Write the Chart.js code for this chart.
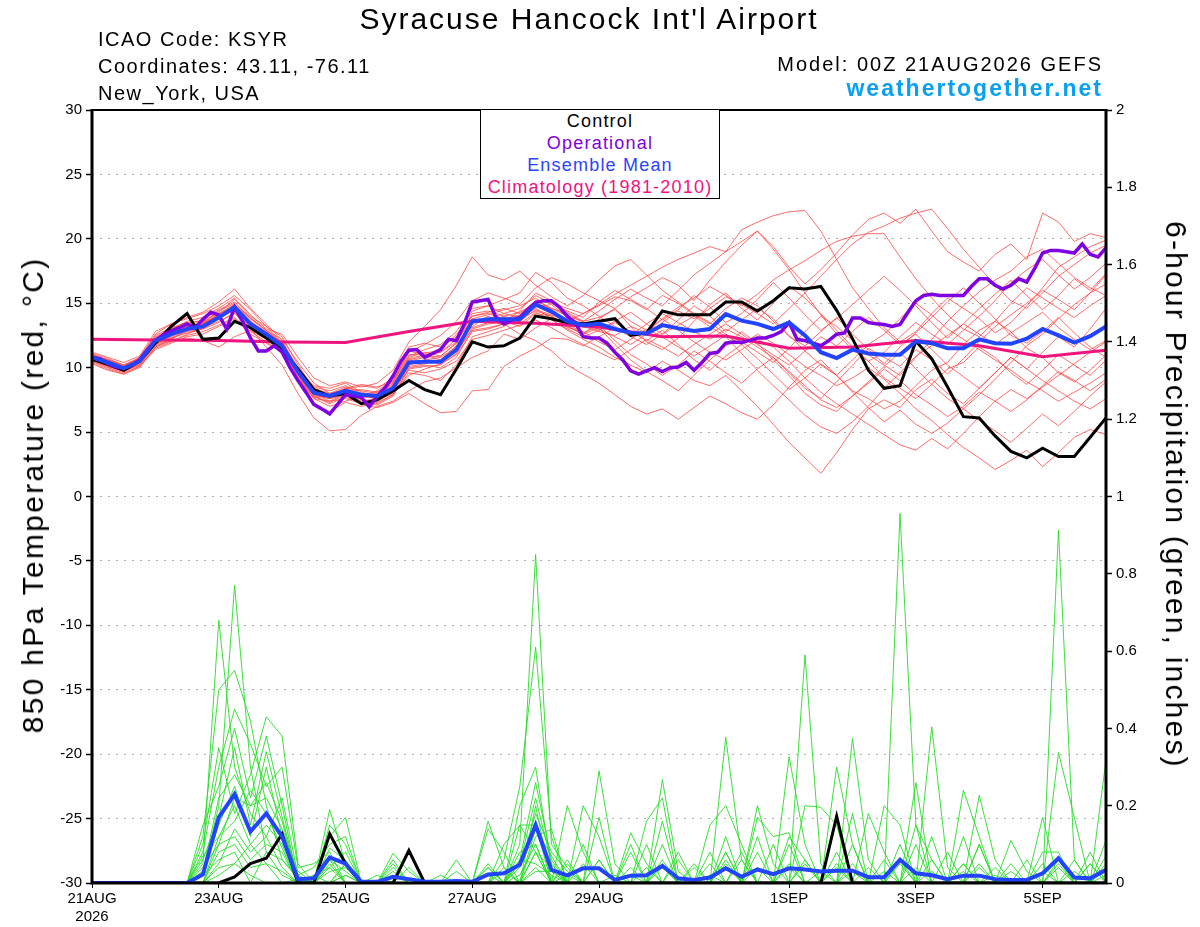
<!DOCTYPE html>
<html>
<head>
<meta charset="utf-8">
<script src="https://cdn.jsdelivr.net/npm/chart.js@4.4.1/dist/chart.umd.min.js"></script>
<style>
body { margin: 0; background: #fff; }
#wrap { position: relative; width: 1200px; height: 927px; font-family: "Liberation Sans", Arial, Helvetica, sans-serif; }
#wrap canvas { position: absolute; left: 0; top: 0; }
.t { position: absolute; white-space: nowrap; line-height: 1; color: #000; }
#legendBox { position: absolute; left: 480px; top: 109px; width: 240px; height: 90px; box-sizing: border-box;
  border: 1.5px solid #000; background: #fff; text-align: center; font-size: 18px; letter-spacing: 1.2px; }
#legendBox div { line-height: 22px; }
</style>
</head>
<body>
<div id="wrap">
  <canvas id="ensembleChart" width="1200" height="927"></canvas>
  <div class="t" style="left:589px;top:4px;font-size:30px;letter-spacing:2px;transform:translateX(-50%)">Syracuse Hancock Int'l Airport</div>
  <div class="t" style="left:98px;top:29px;font-size:20px;letter-spacing:1.5px">ICAO Code: KSYR</div>
  <div class="t" style="left:98px;top:56px;font-size:20px;letter-spacing:1.5px">Coordinates: 43.11, -76.11</div>
  <div class="t" style="left:98px;top:83px;font-size:20px;letter-spacing:1.5px">New_York, USA</div>
  <div class="t" style="right:97px;top:54px;font-size:20px;letter-spacing:2px">Model: 00Z 21AUG2026 GEFS</div>
  <div class="t" style="right:97px;top:77px;font-size:23px;font-weight:bold;letter-spacing:2px;color:#0aa0f2">weathertogether.net</div>
  <div id="legendBox">
    <div style="color:#000">Control</div>
    <div style="color:#8000e0">Operational</div>
    <div style="color:#2a44ff">Ensemble Mean</div>
    <div style="color:#f0147e">Climatology (1981-2010)</div>
  </div>
  <div class="t" style="left:33px;top:495px;font-size:30px;letter-spacing:2.3px;transform:translate(-50%,-50%) rotate(-90deg)">850 hPa Temperature (red, °C)</div>
  <div class="t" style="left:1176px;top:495px;font-size:30px;letter-spacing:2.2px;transform:translate(-50%,-50%) rotate(90deg)">6-hour Precipitation (green, inches)</div>
</div>
<script>
// forecast hours: members every 6h, operational every 3h, climatology daily
const stepHours = 6;
const opStepHours = 3;
const climStepHours = 24;

const xTickHours = [0, 48, 96, 144, 192, 264, 312, 360];
const xTickLabels = [["21AUG", "2026"], "23AUG", "25AUG", "27AUG", "29AUG", "1SEP", "3SEP", "5SEP"];

// 850 hPa temperature (C)
const controlTemp = [10.65,10.26,9.8,10.5,11.9,13.2,14.2,12.2,12.3,13.6, 13.1,12.3,11.4,9.9,8.3,7.8,8.0,7.2,7.5,8.2,
  9.0,8.3,7.9,9.9,12.0,11.6,11.7,12.3,14.0,13.8, 13.5,13.4,13.6,13.8,12.5,12.7,14.4,14.1,14.1,14.1,
  15.1,15.1,14.4,15.2,16.2,16.1,16.3,14.45,12.25,9.8, 8.4,8.6,12.05,10.7,8.5,6.2,6.1,4.7,3.5,3.0,
  3.75,3.1,3.1,4.6,6.1];
const meanTemp = [10.8,10.4,9.95,10.5,12.1,12.6,13.0,13.2,13.9,14.7, 13.4,12.6,11.7,9.7,8.05,7.8,8.2,7.9,7.8,8.4,
  10.4,10.45,10.45,11.4,13.6,13.75,13.75,13.75,14.9,14.35, 13.6,13.3,13.4,13.0,12.7,12.65,13.3,13.05,12.85,13.0,
  14.15,13.65,13.4,13.0,13.5,12.5,11.2,10.75,11.4,11.1, 11.0,11.0,12.05,11.9,11.5,11.5,12.2,11.9,11.85,12.25,
  13.0,12.5,11.95,12.45,13.2];
const operationalTemp = [10.8,10.7,10.3,10.05,9.95,10.2,10.6,11.4,12.1,12.55, 12.85,13.1,13.4,13.1,13.75,14.3,14.1,13.0,14.7,13.6,
  12.3,11.3,11.3,11.7,11.2,10.0,9.0,8.1,7.15,6.8, 6.4,7.15,7.9,7.8,7.7,6.95,7.8,8.45,9.35,10.5,
  11.35,11.4,10.8,11.1,11.4,12.2,12.1,13.4,15.1,15.2, 15.3,13.9,13.4,13.7,13.9,14.5,15.05,15.2,15.2,14.7,
  14.0,13.5,12.4,12.3,12.3,11.9,11.2,10.6,9.75,9.5, 9.75,10.0,9.7,10.0,10.05,10.4,9.8,10.4,11.1,11.2,
  11.9,12.0,11.95,12.1,12.3,12.3,12.5,12.8,13.5,12.2, 12.1,11.9,11.7,12.1,12.6,12.7,13.85,13.85,13.5,13.4,
  13.35,13.2,13.35,14.3,15.2,15.6,15.7,15.6,15.6,15.6, 15.6,16.3,16.9,16.9,16.4,16.1,16.4,16.9,16.65,17.7,
  18.9,19.1,19.1,19.0,18.9,19.6,18.8,18.6,19.3];
const climTemp = [12.2,12.15,12.1,12.0,11.95,12.8,13.6,13.45,13.15,12.4,12.45,11.5,11.6,12.1,11.7,10.85,11.35];

const tempMembers = [
  [10.9,10.6,10.2,10.8,12.6,13.4,13.8,14.2,14.8,15.6, 14.5,13.2,11.9,9.5,7.6,7.0,7.4,7.8,8.2,9.0, 11.2,11.8,12.5,13.6,15.2,15.8,15.4,14.9,16.2,17.0,
   16.5,15.8,15.2,14.6,15.5,16.2,17.0,16.4,15.2,16.8, 18.2,19.5,20.6,19.4,17.8,16.5,17.6,18.9,20.3,21.5, 22.0,21.2,22.3,20.6,19.0,18.2,17.5,18.8,19.6,18.4, 22.0,21.3,19.8,20.4,20.1],
  [10.6,10.1,9.7,10.3,11.8,12.2,12.9,13.5,14.0,14.9, 13.8,12.9,12.2,10.4,8.8,8.0,8.5,7.6,7.2,7.9, 9.6,9.4,9.0,10.2,12.4,12.8,13.2,13.9,14.6,13.8,
   12.9,12.2,11.6,10.8,10.2,9.6,10.5,9.8,9.0,8.6, 9.4,8.2,7.0,5.6,4.2,3.0,1.8,3.4,5.2,6.8, 7.5,6.9,8.3,9.1,8.0,7.2,8.4,9.6,10.8,9.9, 11.2,12.4,11.6,13.0,14.6],
  [11.0,10.5,10.1,10.6,12.4,13.0,13.6,13.9,14.6,15.4, 14.1,13.0,12.6,10.8,9.2,8.6,8.9,8.5,8.8,9.8, 12.0,13.2,14.5,16.4,18.6,17.2,16.8,17.5,16.4,15.5,
   14.8,15.6,16.8,17.9,18.4,17.2,16.0,15.1,14.2,13.5, 12.6,12.0,11.2,10.4,11.5,12.8,14.0,13.2,12.1,11.0, 10.2,9.4,10.8,12.2,13.6,14.8,15.9,16.8,17.5,18.6, 19.2,18.1,17.0,16.2,15.6],
  [10.5,10.0,9.6,10.1,11.5,12.0,12.6,13.1,13.6,14.2, 13.0,11.6,10.2,8.0,6.1,5.1,5.2,6.3,7.0,7.4, 8.2,8.9,9.2,10.0,10.8,11.3,12.6,12.2,13.1,13.8,
   13.3,12.5,13.8,14.6,13.2,12.0,11.4,12.3,13.6,14.9, 15.8,14.6,13.7,15.0,16.3,15.4,14.2,12.9,11.6,10.5, 9.2,8.4,7.6,8.7,9.9,10.4,11.6,10.8,9.6,8.7, 9.8,11.0,10.2,9.4,10.6],
  [10.7,10.3,9.9,10.4,12.2,12.8,13.3,13.4,14.1,14.8, 13.6,12.4,11.4,9.4,7.9,7.6,8.1,8.0,7.6,8.6, 10.8,11.2,10.9,11.9,13.2,14.0,13.5,14.4,15.8,15.2,
   14.3,13.6,14.4,15.3,16.1,15.4,14.8,16.0,17.2,18.1, 19.0,20.7,21.3,21.8,22.1,22.2,20.6,18.4,16.2,14.6, 13.1,12.0,12.8,14.2,15.4,14.6,13.8,12.7,13.5,14.8, 16.2,17.8,18.6,19.4,19.9],
  [10.8,10.4,10.0,10.5,11.9,12.3,12.7,13.0,13.5,14.3, 13.1,12.3,11.5,9.9,8.5,8.2,8.6,8.0,7.5,8.0, 9.4,9.9,10.3,11.0,12.8,13.0,13.4,12.6,12.1,11.3,
   10.2,9.5,8.8,7.9,7.0,6.4,6.8,6.0,6.9,7.8, 7.2,6.5,6.0,7.1,8.5,9.8,10.6,9.4,8.2,7.6, 6.8,7.4,8.6,9.8,10.4,11.8,12.9,13.6,12.8,11.5, 10.8,9.6,8.9,9.8,11.0],
  [11.1,10.7,10.2,10.7,12.5,13.1,13.5,13.6,14.3,15.3, 14.0,13.2,12.4,10.2,8.4,8.0,8.3,8.6,8.4,9.2, 11.6,11.9,11.6,12.4,14.4,14.8,14.2,14.6,15.6,15.0,
   14.6,14.2,14.8,15.5,15.2,14.5,15.6,15.0,14.1,13.4, 14.6,15.4,14.8,13.6,12.5,11.3,10.2,9.4,10.6,11.8, 12.6,13.8,15.0,14.1,13.0,12.2,11.4,10.6,9.8,8.9, 8.2,7.4,8.1,8.8,9.6],
  [10.4,9.9,9.5,10.0,11.6,12.3,12.8,13.0,13.8,14.5, 13.4,12.7,12.0,9.8,8.2,7.6,7.9,7.4,7.6,8.3, 10.1,10.3,10.6,11.2,13.0,13.4,13.6,13.2,14.2,14.0,
   13.1,12.8,12.0,11.4,12.2,13.0,12.4,11.6,10.9,11.7, 12.5,11.8,12.6,11.9,11.0,10.1,9.4,8.6,9.2,10.0, 9.1,8.0,6.8,5.9,4.8,3.8,3.0,2.1,2.8,3.6, 2.3,3.4,4.6,5.2,4.8],
  [11.2,10.8,10.4,10.9,12.8,13.4,13.9,14.3,15.1,16.1, 14.6,13.4,12.1,9.9,7.8,7.3,7.9,7.6,7.9,8.8, 10.9,11.4,11.8,12.8,14.6,14.8,15.3,15.8,17.4,16.6,
   15.4,14.8,14.0,13.2,12.5,13.4,14.2,13.5,12.8,12.2, 13.0,12.4,11.6,10.8,9.6,8.4,7.6,8.9,10.2,11.5, 10.8,10.1,11.4,10.6,9.5,10.7,12.0,13.2,14.1,15.0, 16.0,15.3,14.5,15.8,17.2],
  [10.6,10.2,9.8,10.4,11.7,12.1,12.5,12.8,13.3,13.9, 12.8,12.0,11.2,9.6,8.0,7.4,7.6,7.2,6.9,7.3, 8.0,7.2,6.5,6.6,8.2,8.3,10.1,10.9,11.5,12.3,
   12.2,11.7,12.4,13.1,12.4,11.8,12.6,13.3,14.0,13.2, 12.4,11.1,9.8,8.6,7.5,6.3,5.4,4.9,5.8,7.0, 8.4,9.6,10.9,11.7,12.5,13.4,12.6,11.8,12.7,13.5, 14.3,13.1,12.2,11.4,12.1],
  [10.9,10.5,10.0,10.6,12.0,12.5,13.1,13.4,14.0,14.6, 13.3,12.5,11.6,9.2,7.6,7.4,8.0,7.7,8.1,8.9, 11.0,11.1,11.4,12.6,14.0,14.2,13.8,14.1,15.2,14.6,
   14.0,13.6,13.9,14.5,13.6,12.9,13.8,14.7,15.4,16.3, 15.6,14.8,15.7,16.8,17.6,18.3,19.1,19.8,20.2,20.4, 20.4,18.6,16.9,15.4,14.1,13.0,12.4,13.6,15.0,16.2, 15.4,14.6,13.9,14.8,15.6],
  [10.8,10.4,9.9,10.4,12.3,12.9,13.2,13.3,14.2,14.9, 13.6,12.8,11.8,9.7,8.1,7.7,8.4,8.2,8.0,8.6, 10.5,10.8,10.9,11.9,14.2,14.4,14.0,13.6,14.8,14.2,
   13.8,13.2,12.8,12.5,13.2,12.7,13.8,12.9,12.0,11.2, 10.6,11.4,12.2,11.6,10.5,9.2,8.1,7.2,6.4,5.6, 4.8,4.0,3.6,4.5,3.7,4.9,6.2,7.4,8.3,7.6, 8.5,9.4,10.3,11.2,12.0],
  [10.7,10.3,9.9,10.5,12.1,12.6,13.0,13.2,13.8,14.6, 13.5,12.6,11.5,9.6,7.9,7.6,8.0,7.5,7.4,8.1, 10.2,10.6,10.4,11.4,13.4,13.8,14.2,13.9,14.7,14.9,
   13.9,13.4,13.0,12.4,11.8,12.6,13.5,14.4,13.8,14.6, 15.5,14.9,14.2,13.4,14.6,15.8,17.1,18.4,19.6,20.5, 21.0,21.6,22.0,22.3,20.8,19.2,17.8,16.4,15.2,14.6, 15.8,17.1,18.0,18.9,19.5],
  [10.3,9.8,9.5,10.1,11.4,11.9,12.4,12.6,13.2,13.8, 12.6,11.9,11.2,9.9,8.6,8.4,8.8,8.1,7.8,8.3, 9.8,9.6,9.9,10.5,12.2,12.5,12.9,13.3,13.7,13.1,
   12.4,11.8,11.2,10.6,11.4,12.2,11.6,10.9,11.8,12.6, 13.4,12.6,11.8,11.0,10.2,11.3,12.4,11.7,12.8,13.9, 12.9,11.8,12.6,11.4,10.2,9.3,8.4,9.6,10.8,9.9, 9.0,8.2,7.4,6.8,7.6],
  [11.0,10.6,10.1,10.6,12.0,12.4,12.9,13.3,14.0,14.6, 13.2,12.2,11.3,9.3,7.7,7.8,8.4,8.7,8.5,8.9, 11.3,11.0,10.6,11.7,13.6,13.7,13.3,13.6,14.5,14.1,
   13.6,14.2,14.9,15.7,16.4,17.1,17.8,18.4,18.9,19.4, 19.0,19.8,20.6,19.2,17.6,15.8,14.1,12.6,11.4,10.5, 11.2,12.4,13.5,12.6,11.8,12.9,14.0,15.2,16.6,17.6, 18.4,17.2,16.1,17.0,18.1],
  [10.8,10.3,9.8,10.2,11.6,12.1,12.3,12.1,11.6,12.4, 12.9,12.2,11.4,9.5,7.2,6.6,7.3,7.0,7.3,7.9, 10.0,10.2,10.0,10.8,12.9,13.1,13.4,13.8,14.4,14.0,
   13.2,12.6,13.1,11.8,10.6,9.7,9.0,8.2,9.4,10.6, 11.7,12.8,11.9,10.6,9.4,8.0,7.1,6.6,7.8,8.9, 10.1,11.2,9.9,8.7,7.6,6.8,7.9,9.1,10.4,11.7, 12.6,13.8,14.9,15.8,16.5],
  [10.6,10.2,9.9,10.4,12.0,12.7,13.1,13.5,14.4,15.0, 13.9,12.9,11.9,9.8,8.3,7.9,8.3,7.8,7.7,8.5, 10.6,10.9,11.2,12.0,13.8,14.1,14.5,14.8,15.4,14.5,
   13.4,12.7,13.3,12.1,11.0,10.3,9.4,10.2,11.3,10.5, 9.6,8.8,9.9,10.8,9.7,8.6,7.5,6.9,7.8,8.8, 9.9,9.0,7.9,7.1,6.2,7.0,8.1,7.4,6.6,7.5, 8.6,9.7,9.0,8.2,9.1],
  [10.9,10.5,10.1,10.6,12.2,12.7,13.2,13.5,14.2,14.8, 13.4,12.7,11.9,9.8,8.0,7.7,8.1,7.8,7.6,8.3, 10.3,10.6,10.8,11.6,13.8,13.6,14.0,14.3,15.0,14.6,
   14.2,13.5,12.9,13.6,14.3,13.4,12.6,13.7,14.8,14.0, 12.8,13.7,14.6,13.8,12.4,11.7,12.8,13.9,12.6,11.4, 10.3,11.6,12.7,13.9,15.1,16.2,15.0,13.8,12.5,11.9, 12.8,13.9,12.7,11.6,10.8],
  [10.5,10.1,9.7,10.2,11.8,12.5,13.0,13.3,14.0,14.4, 13.1,12.5,11.6,9.5,7.8,7.2,7.7,7.3,7.1,7.8, 9.9,10.1,10.2,11.1,13.1,13.5,13.9,13.4,14.3,13.7,
   13.0,12.4,12.9,13.5,12.8,12.1,12.9,11.8,10.6,9.8, 10.9,11.8,10.7,9.5,8.3,9.2,10.3,9.4,8.1,6.9, 5.8,6.7,5.6,4.9,5.7,6.8,5.9,5.1,4.2,5.3, 6.4,5.5,6.6,7.8,8.9],
  [11.0,10.6,10.2,10.7,12.3,12.9,13.4,13.7,14.5,15.1, 13.8,12.9,12.0,10.0,8.3,7.9,8.2,8.3,8.1,8.7, 10.7,11.0,11.2,12.2,14.0,14.3,14.6,14.2,15.2,15.0,
   14.4,13.9,15.1,16.0,15.3,14.6,13.7,14.5,15.6,14.7, 13.5,14.2,15.3,16.6,15.4,14.1,12.9,13.8,14.9,16.0, 17.1,16.0,14.8,13.5,12.3,13.4,14.6,15.7,16.8,15.6, 14.5,15.6,16.9,16.0,17.3]
];

// 6-hour precipitation (inches)
const controlPrecip = [0,0,0,0,0,0,0,0,0,0.016, 0.05,0.064,0.127,0,0,0.127,0.05,0,0,0, 0.084,0,0,0,0,0,0,0,0,0,
  0,0,0,0,0,0,0,0,0,0, 0,0,0,0,0,0,0,0.173,0,0, 0,0,0,0,0,0,0,0,0,0, 0,0,0,0,0];
const meanPrecip = [0,0,0,0,0,0,0,0.022,0.17,0.23, 0.133,0.18,0.12,0.01,0.012,0.066,0.05,0.003,0.003,0.016,
  0.01,0.003,0.003,0.005,0.003,0.022,0.025,0.047,0.15,0.034, 0.02,0.038,0.038,0.008,0.019,0.02,0.044,0.012,0.008,0.014,
  0.038,0.016,0.035,0.023,0.038,0.035,0.03,0.032,0.032,0.015, 0.015,0.06,0.025,0.02,0.01,0.019,0.019,0.01,0.008,0.008,
  0.025,0.064,0.014,0.012,0.034];

const precipMembers = [
  [0,0,0,0,0,0,0,.05,.68,.3, .18,.12,.04,0,0,.06,.03,0,0,0, 0,0,0,0,0,.04,0,.1,.85,.1, .04,0,0,0,0,0,.06,0,0,0, .08,0,0,0,.12,.06,0,0,0,0, 0,.956,.15,.06,0,0,.1,0,0,0, .08,.08,0,0,0],
  [0,0,0,0,0,0,0,.02,.2,.77, .3,.08,.02,0,0,.19,.05,0,0,.05, 0,0,0,0,0,0,0,.2,.3,.04, 0,0,.06,0,.13,.05,0,0,0,0, .377,.06,0,0,0,0,0,0,.05,0, 0,0,0,.404,.04,0,0,0,0,0, 0,.913,.06,0,.07],
  [0,0,0,0,0,0,0,.12,.5,.55, .42,.2,.06,.02,.04,.1,.12,0,0,0, 0,0,0,0,0,0,.06,.25,.61,.12, 0,0,0,0,0,0,.267,.03,0,0, 0,0,0,0,0,.59,.05,0,0,0, 0,0,0,0,0,.05,0,0,0,0, 0,0,0,0,.318],
  [0,0,0,0,0,0,0,.1,.35,.18, .28,.43,.38,.05,0,.12,.17,0,0,.077, .03,0,0,0,0,.16,.04,0,.2,0, .2,.08,0,0,0,0,0,0,0,.08, 0,0,.2,.05,0,0,0,0,.374,.06, 0,0,0,0,0,0,0,.04,0,0, 0,.338,.17,0,0],
  [0,0,0,0,0,0,0,.08,.3,.45, .36,.25,.3,.04,.05,.08,0,0,0,0, 0,0,0,.06,0,0,0,.06,.26,.06, 0,0,.29,.05,0,0,.1,0,0,0, 0,0,0,0,.327,.1,0,0,0,0, .2,.15,0,0,0,0,.227,.06,0,0, 0,0,0,.05,0],
  [0,0,0,0,0,0,0,.15,.25,.4, .22,.38,.2,0,.02,.04,0,0,0,.06, 0,0,0,0,0,0,.1,.15,.15,0, 0,.2,.12,0,0,.16,.22,0,0,0, .12,0,0,0,0,0,0,.3,.1,0, 0,0,0,0,0,.24,.12,0,0,0, .17,0,0,0,.11],
  [0,0,0,0,0,0,0,.06,.17,.35, .15,.34,.17,.01,0,.15,.1,0,0,0, 0,0,0,0,0,.14,.08,0,.12,.14, 0,0,0,0,.1,0,.16,0,0,.15, .2,.1,0,0,0,.2,.196,.15,0,0, 0,0,0,.12,0,0,0,0,.11,.03, 0,0,0,0,0],
  [0,0,0,0,0,0,0,.03,.15,.25, .12,.3,.12,0,0,.04,.08,0,0,.03, 0,0,.02,0,0,0,0,.08,.1,0, .06,0,.17,0,0,0,0,.08,0,0, 0,0,.17,.12,.13,0,0,0,0,.18, .08,0,.26,0,0,0,0,0,.05,0, 0,0,.06,0,0],
  [0,0,0,0,0,0,0,0,.12,.2, .1,.15,.1,0,0,0,.05,0,0,0, .04,0,0,.03,0,0,0,0,.08,.04, 0,.1,0,0,.08,0,0,0,.05,0, 0,.08,0,0,.1,0,0,0,.18,0, 0,.1,0,0,0,.12,0,0,0,.06, 0,0,0,.08,0],
  [0,0,0,0,0,0,0,0,.1,.12, .06,.1,.08,0,0,.06,0,0,.02,0, 0,0,0,0,0,.05,0,.15,.08,0, .05,0,0,0,0,.1,0,0,0,.05, 0,0,.12,0,0,0,0,.08,0,0, .06,0,.1,0,0,0,.1,0,0,0, .05,0,0,0,.04],
  [0,0,0,0,0,0,0,0,.08,.1, .04,.05,.03,0,0,0,.05,0,0,0, 0,0,0,0,0,0,.04,0,.08,0, 0,0,0,.02,0,0,.05,0,0,0, .08,0,.08,0,0,.06,0,0,.1,0, 0,0,.15,0,.08,0,0,0,0,0, 0,.06,0,0,0],
  [0,0,0,0,0,0,0,.02,.06,.08, 0,.08,.06,.01,0,0,0,0,0,0, 0,0,0,0,0,.04,0,.06,.05,.02, 0,0,0,0,0,0,0,.06,0,0, 0,.06,0,.1,0,0,.03,0,0,0, 0,0,0,.06,0,0,0,.02,0,0, 0,0,0,.05,0],
  [0,0,0,0,0,0,0,0,.04,.05, .1,.05,0,0,.02,0,0,0,0,.02, 0,0,0,0,0,0,0,0,.04,0, 0,0,.06,0,0,0,0,0,.04,0, 0,0,0,0,.05,0,0,0,0,.04, 0,0,0,0,0,.05,0,0,0,0, .03,0,0,0,.05],
  [0,0,0,0,0,0,0,0,.02,.05, .02,0,0,.01,0,0,.02,0,0,0, 0,0,0,0,0,0,0,0,.03,.03, 0,0,0,0,.04,0,0,0,0,.02, 0,0,0,0,0,0,0,.04,0,0, .03,0,0,0,0,0,.04,0,0,0, 0,0,.03,0,0],
  [0,0,0,0,0,0,0,.04,.1,.22, .2,.22,.14,.03,0,.05,0,0,0,0, 0,0,0,0,0,0,0,.04,.18,.08, .03,0,0,0,0,0,0,0,0,0, .06,0,0,0,0,.05,0,0,0,0, 0,.06,0,0,0,0,0,0,0,0, 0,.05,0,0,0],
  [0,0,0,0,0,0,0,.03,.22,.28, .2,.26,.16,0,0,.09,.06,0,0,0, 0,0,0,0,0,.02,0,.05,.22,.05, 0,0,0,0,0,0,.04,0,0,0, 0,0,0,0,.04,0,0,0,0,0, 0,0,0,.03,0,0,.05,0,0,0, 0,0,0,0,0],
  [0,0,0,0,0,0,0,.07,.12,.16, .24,.18,.09,0,0,.03,.04,0,0,.04, 0,0,0,0,0,0,.03,0,.14,.07, 0,.05,0,0,0,.04,0,0,0,0, .05,0,0,0,0,0,0,.05,0,0, 0,.05,0,0,0,.03,0,0,0,0, 0,.04,0,0,0],
  [0,0,0,0,0,0,0,0,.05,.14, .08,.12,.22,.02,0,0,.02,0,0,0, 0,0,0,0,0,0,0,.02,.1,0, .02,0,0,0,.02,0,0,0,0,0, 0,0,.04,0,0,0,0,0,.03,0, 0,0,.04,0,0,0,0,0,.03,0, 0,0,0,0,.02]
];

const toPoints = (values, step) => values.map((v, i) => ({ x: i * step, y: v }));

const lineSet = (values, step, axis, color, width, order) => ({
  type: 'line',
  data: toPoints(values, step),
  yAxisID: axis,
  borderColor: color,
  borderWidth: width,
  pointRadius: 0,
  tension: 0,
  fill: false,
  order: order
});

const datasets = [];
tempMembers.forEach(m => datasets.push(lineSet(m, stepHours, 'y', 'rgba(255,70,70,0.8)', 1, 20)));
precipMembers.forEach(m => datasets.push(lineSet(m, stepHours, 'y2', 'rgba(40,220,40,0.9)', 1, 21)));
datasets.push(lineSet(climTemp, climStepHours, 'y', '#f0147e', 3, 4));
datasets.push(lineSet(controlTemp, stepHours, 'y', '#000000', 3, 3));
datasets.push(lineSet(operationalTemp, opStepHours, 'y', '#7f00e0', 3.5, 2));
datasets.push(lineSet(meanTemp, stepHours, 'y', '#2244ff', 4, 1));
datasets.push(lineSet(controlPrecip, stepHours, 'y2', '#000000', 3, 3));
datasets.push(lineSet(meanPrecip, stepHours, 'y2', '#2244ff', 4, 1));

// box around the plot area
const framePlugin = {
  id: 'frame',
  afterDraw(chart) {
    const { ctx, chartArea: a } = chart;
    ctx.save();
    ctx.strokeStyle = '#000';
    ctx.lineWidth = 2;
    ctx.beginPath(); ctx.moveTo(a.left, a.top); ctx.lineTo(a.right, a.top); ctx.stroke();
    ctx.lineWidth = 3;
    ctx.beginPath();
    ctx.moveTo(a.left, a.top - 1); ctx.lineTo(a.left, a.bottom + 1.5);
    ctx.moveTo(a.right, a.top - 1); ctx.lineTo(a.right, a.bottom + 1.5);
    ctx.moveTo(a.left - 1.5, a.bottom); ctx.lineTo(a.right + 1.5, a.bottom);
    ctx.stroke();
    ctx.restore();
  }
};

const tickFont = { family: '"Liberation Sans", Arial, sans-serif', size: 15 };

const ensembleChart = new Chart(document.getElementById('ensembleChart'), {
  type: 'line',
  data: { datasets: datasets },
  options: {
    responsive: false,
    animation: false,
    devicePixelRatio: 1,
    layout: { padding: { top: 110, left: 0, right: 0, bottom: 0 } },
    plugins: {
      legend: { display: false },
      tooltip: { enabled: false },
      title: { display: false }
    },
    scales: {
      x: {
        type: 'linear',
        min: 0,
        max: 384,
        afterBuildTicks: scale => { scale.ticks = xTickHours.map(h => ({ value: h })); },
        afterFit: scale => { scale.height = 44; },
        ticks: {
          autoSkip: false,
          maxRotation: 0,
          padding: 2,
          color: '#000',
          font: tickFont,
          callback: value => xTickLabels[xTickHours.indexOf(value)]
        },
        grid: { drawOnChartArea: false, drawTicks: true, tickLength: 5, tickColor: '#000' },
        border: { display: false }
      },
      y: {
        position: 'left',
        min: -30,
        max: 30,
        afterFit: scale => { scale.width = 92; },
        ticks: { stepSize: 5, padding: 4, color: '#000', font: tickFont },
        grid: { color: '#b0b0b0', lineWidth: 1, tickColor: '#000', tickLength: 6, tickWidth: 1.5 },
        border: { display: false, dash: [2, 6] }
      },
      y2: {
        position: 'right',
        min: 0,
        max: 2,
        afterFit: scale => { scale.width = 94; },
        ticks: {
          stepSize: 0.2, padding: 4, color: '#000', font: tickFont,
          callback: value => String(Number(value.toFixed(1)))
        },
        grid: { drawOnChartArea: false, tickColor: '#000', tickLength: 6, tickWidth: 1.5 },
        border: { display: false }
      }
    }
  },
  plugins: [framePlugin]
});
</script>
</body>
</html>
